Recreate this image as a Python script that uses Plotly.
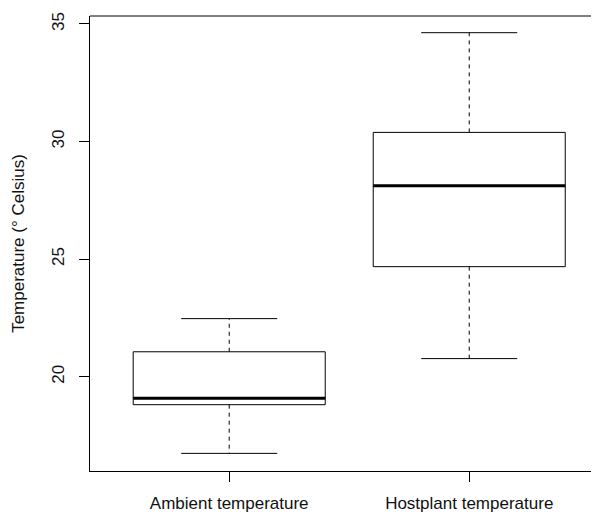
import plotly.graph_objects as go

categories = ["Ambient temperature", "Hostplant temperature"]
lower_whisker = [16.74, 20.77]
q1 = [18.81, 24.68]
median = [19.08, 28.12]
q3 = [21.06, 30.39]
upper_whisker = [22.47, 34.63]
y_ticks = [20, 25, 30, 35]

positions = [1, 2]
box_half = 0.4
cap_half = 0.2

fig = go.Figure()
for i, p in enumerate(positions):
    fig.add_trace(go.Scatter(x=[p, p, None, p, p],
                             y=[q3[i], upper_whisker[i], None, q1[i], lower_whisker[i]],
                             mode="lines", line=dict(color="black", width=1, dash="4px,4px"),
                             hoverinfo="skip", showlegend=False))
    fig.add_trace(go.Scatter(x=[p - cap_half, p + cap_half, None, p - cap_half, p + cap_half],
                             y=[upper_whisker[i], upper_whisker[i], None, lower_whisker[i], lower_whisker[i]],
                             mode="lines", line=dict(color="black", width=1),
                             hoverinfo="skip", showlegend=False))
    fig.add_trace(go.Scatter(x=[p - box_half, p + box_half, p + box_half, p - box_half, p - box_half],
                             y=[q1[i], q1[i], q3[i], q3[i], q1[i]],
                             mode="lines", line=dict(color="black", width=1),
                             hoverinfo="skip", showlegend=False, name=categories[i]))
    fig.add_trace(go.Scatter(x=[p - box_half, p + box_half], y=[median[i], median[i]],
                             mode="lines", line=dict(color="black", width=3),
                             hoverinfo="skip", showlegend=False))

font = dict(family="Liberation Sans, Arial, sans-serif", size=17, color="#111111")

# the page body has an 8px default margin; margins below compensate for it
fig.update_layout(
    width=599, height=514,
    margin=dict(l=82, r=0, t=8, b=51),
    paper_bgcolor="white", plot_bgcolor="white",
    font=font,
    xaxis=dict(range=[0.42, 2.574], tickvals=positions, ticktext=categories,
               showgrid=False, zeroline=False, showline=True, linecolor="black", linewidth=1,
               ticks="outside", ticklen=10, tickcolor="black", tickwidth=1,
               tickfont=font, ticklabelstandoff=7, automargin=False),
    yaxis=dict(range=[15.99, 35.34], tickvals=y_ticks, ticktext=[str(v) for v in y_ticks],
               showgrid=False, zeroline=False, showline=True, linecolor="black", linewidth=1,
               ticks="outside", ticklen=10, tickcolor="black", tickwidth=1,
               tickangle=-90, tickfont=font, ticklabelstandoff=8, automargin=False,
               title=dict(text="Temperature (° Celsius)", font=font, standoff=20)),
    shapes=[dict(type="line", xref="paper", yref="paper", x0=0, x1=1, y0=1, y1=1,
                 line=dict(color="black", width=1))],
)

fig.write_html("out.html")
